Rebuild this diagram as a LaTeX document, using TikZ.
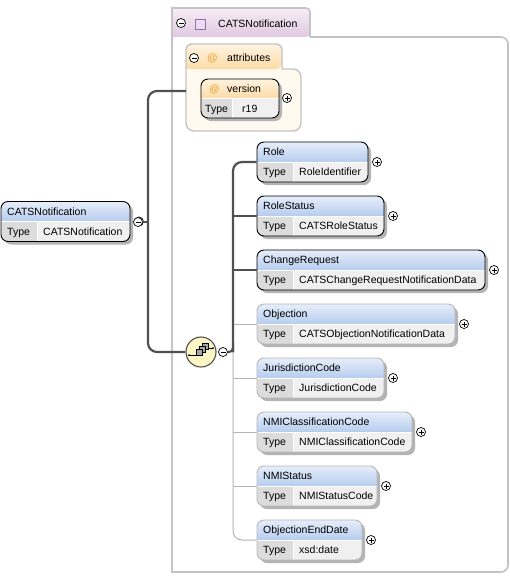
\documentclass[tikz,border=0pt]{standalone}
\usepackage{fontspec}
\setmainfont{Liberation Sans}
\definecolor{hdtop}{HTML}{E6EEFA}
\definecolor{hdbot}{HTML}{B6CCEE}
\definecolor{typeA}{HTML}{DCDCDC}
\definecolor{typeB}{HTML}{F0F0F0}
\definecolor{shadowc}{HTML}{B4B4B4}
\definecolor{optc}{HTML}{B8B8B8}
\definecolor{conn}{HTML}{505050}
\definecolor{lconn}{HTML}{B4B4B4}
\definecolor{outerc}{HTML}{C4C4C4}
\definecolor{purtop}{HTML}{F6EEF6}
\definecolor{purbot}{HTML}{E0C8E0}
\definecolor{sqborder}{HTML}{A068B0}
\definecolor{sqfill}{HTML}{EADCF2}
\definecolor{ortop}{HTML}{FFF3E0}
\definecolor{orbot}{HTML}{FCDCA8}
\definecolor{orfill}{HTML}{FFF9EF}
\definecolor{atc}{HTML}{F0A030}
\definecolor{seqfill}{HTML}{FCF6C4}
\tikzset{
  txt/.style={anchor=base west, inner sep=0pt, text=black},
  elbox/.style={rectangle, rounded corners=7, minimum height=40, inner sep=0pt, line width=0.9},
  sign/.style={circle, draw=black, fill=white, minimum size=9, inner sep=0pt, line width=0.7},
  plusc/.style={sign, path picture={\draw[line width=0.7] (path picture bounding box.center) +(-2.5pt,0pt) -- +(2.5pt,0pt) (path picture bounding box.center) +(0pt,-2.5pt) -- +(0pt,2.5pt);}},
  minusc/.style={sign, path picture={\draw[line width=0.7] (path picture bounding box.center) +(-2.5pt,0pt) -- +(2.5pt,0pt);}},
  dconn/.style={draw=conn, line width=2.2},
  lconnst/.style={draw=lconn, line width=1},
}
\newcommand\xelem[7]{%
  \fill[shadowc, rounded corners=7] ({#2+3},{#3-17}) rectangle ({#4+3},{#3+23});
  \begin{scope}
    \clip[rounded corners=7] (#2,{#3-20}) rectangle (#4,{#3+20});
    \shade[top color=hdtop, bottom color=hdbot] (#2,{#3-20}) rectangle (#4,#3);
    \fill[typeA] (#2,#3) rectangle ({#2+36},{#3+20});
    \fill[typeB] ({#2+36},#3) rectangle (#4,{#3+20});
    \draw[white, line width=0.8] (#2,#3) -- (#4,#3) ({#2+36},#3) -- ({#2+36},{#3+20});
  \end{scope}
  \node[elbox, draw=#7, minimum width={#4-#2}] (#1) at ({(#2+#4)/2},#3) {};
  \node[txt] at ({#2+6},{#3-6.5}) {#5};
  \node[txt] at ({#2+6},{#3+13.5}) {Type};
  \node[txt] at ({#2+42},{#3+13.5}) {#6};
  \node[plusc] (#1p) at ({#4+9},#3) {};
}
\begin{document}
\begin{tikzpicture}[x=1pt,y=-1pt,font=\fontsize{10.5}{12}\selectfont]
\useasboundingbox (0,0) rectangle (510,576);
\fill[white] (0,0) rectangle (510,576);

% outer container
\draw[outerc, line width=1.6] (172,37) -- (172,572) [rounded corners=7] -- (508,572) -- (508,37) [sharp corners] -- (310,37);
\shade[top color=purtop, bottom color=purbot, rounded corners=4] (172,8) -- (310,8) -- (310,37) [sharp corners] -- (172,37) -- cycle;
\draw[outerc, line width=1.6] (172,37) -- (172,8) [rounded corners=4] -- (310,8) -- (310,37);
\node[minusc] (outm) at (181,23) {};
\node[rectangle, draw=sqborder, fill=sqfill, minimum size=10, inner sep=0pt, line width=0.8] (outsq) at (200,24) {};
\node[txt] (outt) at (218,27.5) {CATSNotification};

% attributes container
\fill[orfill, rounded corners=8] (186,69) -- (301,69) -- (301,131) -- (186,131) -- cycle;
\draw[outerc, line width=1.4, rounded corners=8] (186,69) -- (186,131) -- (301,131) -- (301,69) -- (282,69);
\shade[top color=ortop, bottom color=orbot, rounded corners=6] (186,69) -- (186,44) -- (282,44) -- (282,69) [sharp corners] -- cycle;
\draw[outerc, line width=1.4, rounded corners=6] (186,69) -- (186,44) -- (282,44) -- (282,69);
\node[minusc] (attm) at (194,58) {};
\node[txt, text=atc] at (207,61.5) {@};
\node[txt] at (227,61.5) {attributes};
\coordinate (attw) at (186,91);

% version attribute
\fill[shadowc, rounded corners=7] (204,82) rectangle (282,121);
\begin{scope}
  \clip[rounded corners=7] (201,79) rectangle (279,118);
  \shade[top color=ortop, bottom color=orbot] (201,79) rectangle (279,98);
  \fill[typeA] (201,98) rectangle (232,118);
  \fill[typeB] (232,98) rectangle (279,118);
  \draw[white, line width=0.8] (201,98) -- (279,98) (232,98) -- (232,118);
\end{scope}
\node[elbox, draw=black, minimum width=78, minimum height=39] (version) at (240,98.5) {};
\node[txt, text=atc] at (209,92) {@};
\node[txt] at (227,92) {version};
\node[txt] at (205,112) {Type};
\node[txt] at (242,112) {r19};
\node[plusc] (versionp) at (287,98) {};

% root element
\xelem{root}{1}{221.5}{130}{CATSNotification}{CATSNotification}{black}
\node[minusc] (rootm) at (138,222) {};

% sequence compositor
\node[circle, draw=conn, fill=seqfill, line width=1.1, minimum size=30, inner sep=0pt] (seq) at (201,352) {};
\begin{scope}[line width=0.6]
  \draw (189,355) -- (196,355);
  \fill (189,355) circle (1);
  \draw (206,348) -- (213,348);
  \fill (213,348) circle (1);
  \draw[fill=gray!70] (202,343) rectangle (208,349);
  \draw[fill=gray!70] (199,346) rectangle (205,352);
  \draw[fill=gray!70] (196,349) rectangle (202,355);
\end{scope}
\node[minusc] (seqm) at (223,352) {};

% child elements
\xelem{Role}{257}{162}{368}{Role}{RoleIdentifier}{black}
\xelem{RoleStatus}{257}{216}{384}{RoleStatus}{CATSRoleStatus}{black}
\xelem{ChangeRequest}{257}{270}{485}{ChangeRequest}{CATSChangeRequestNotificationData}{black}
\xelem{Objection}{257}{324}{455}{Objection}{CATSObjectionNotificationData}{optc}
\xelem{JurisdictionCode}{257}{378}{384}{JurisdictionCode}{JurisdictionCode}{optc}
\xelem{NMIClassificationCode}{257}{432}{412}{NMIClassificationCode}{NMIClassificationCode}{optc}
\xelem{NMIStatus}{257}{486}{377}{NMIStatus}{NMIStatusCode}{optc}
\xelem{ObjectionEndDate}{257}{540}{362}{ObjectionEndDate}{xsd:date}{optc}

% connectors
\coordinate (rj) at (148,222);
\coordinate (sj) at (233,352);
\draw[dconn] (rootm.east) -- (rj);
\draw[dconn, rounded corners=9] (attw) -| (rj) |- (seq.west);
\draw[lconnst] (sj |- Objection.west) -- (Objection.west);
\draw[lconnst] (sj |- JurisdictionCode.west) -- (JurisdictionCode.west);
\draw[lconnst] (sj |- NMIClassificationCode.west) -- (NMIClassificationCode.west);
\draw[lconnst] (sj |- NMIStatus.west) -- (NMIStatus.west);
\draw[lconnst, rounded corners=9] (sj |- Objection.west) |- (ObjectionEndDate.west);
\draw[dconn, rounded corners=4] (seqm.east) -| (sj);
\draw[dconn, rounded corners=9] (sj) |- (Role.west);
\draw[dconn] (sj |- RoleStatus.west) -- (RoleStatus.west);
\draw[dconn] (sj |- ChangeRequest.west) -- (ChangeRequest.west);
\end{tikzpicture}
\end{document}
